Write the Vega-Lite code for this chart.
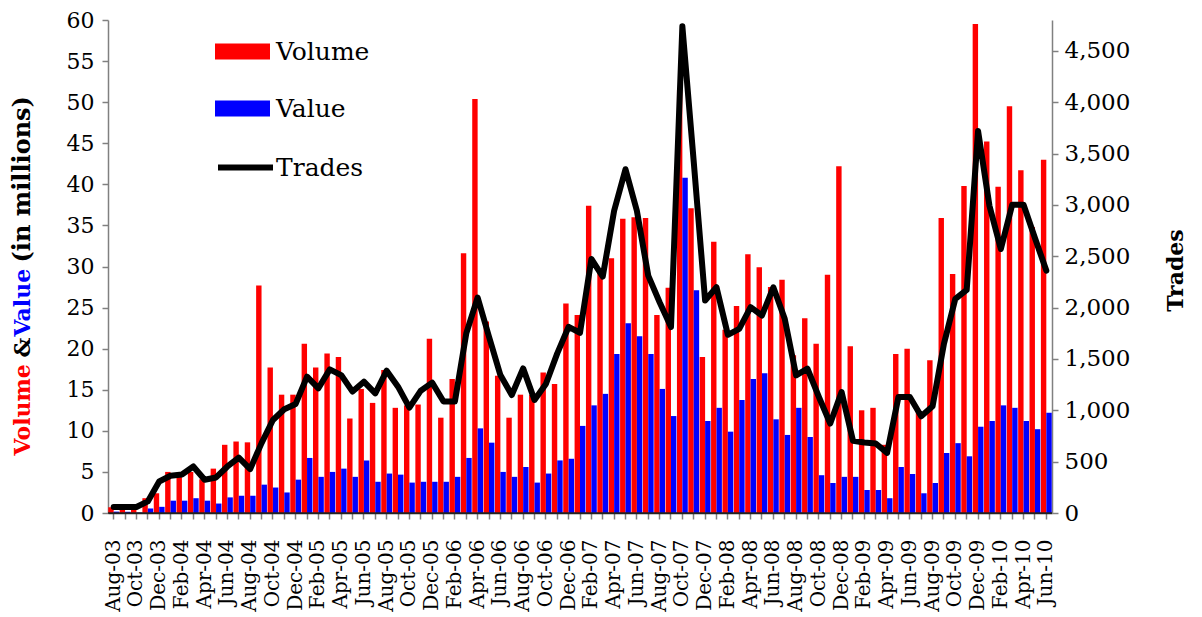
{
  "$schema": "https://vega.github.io/schema/vega-lite/v6.json",
  "width": 944,
  "height": 493,
  "autosize": {"type": "none"},
  "padding": {"left": 108, "top": 20, "right": 150, "bottom": 104},
  "background": "white",
  "datasets": {
    "monthly": [
    {"m":"Aug-03","Volume":0.7,"Value":0.17,"Trades":58},
    {"m":"Sep-03","Volume":0.7,"Value":0.15,"Trades":58},
    {"m":"Oct-03","Volume":0.7,"Value":0.05,"Trades":58},
    {"m":"Nov-03","Volume":1.8,"Value":0.55,"Trades":113},
    {"m":"Dec-03","Volume":2.4,"Value":0.75,"Trades":307},
    {"m":"Jan-04","Volume":5.0,"Value":1.5,"Trades":363},
    {"m":"Feb-04","Volume":4.7,"Value":1.5,"Trades":375},
    {"m":"Mar-04","Volume":5.0,"Value":1.8,"Trades":453},
    {"m":"Apr-04","Volume":4.1,"Value":1.5,"Trades":324},
    {"m":"May-04","Volume":5.4,"Value":1.15,"Trades":346},
    {"m":"Jun-04","Volume":8.3,"Value":1.9,"Trades":453},
    {"m":"Jul-04","Volume":8.7,"Value":2.1,"Trades":540},
    {"m":"Aug-04","Volume":8.6,"Value":2.1,"Trades":427},
    {"m":"Sep-04","Volume":27.7,"Value":3.45,"Trades":680},
    {"m":"Oct-04","Volume":17.7,"Value":3.1,"Trades":906},
    {"m":"Nov-04","Volume":14.4,"Value":2.5,"Trades":1010},
    {"m":"Dec-04","Volume":14.4,"Value":4.06,"Trades":1062},
    {"m":"Jan-05","Volume":20.6,"Value":6.7,"Trades":1327},
    {"m":"Feb-05","Volume":17.7,"Value":4.4,"Trades":1214},
    {"m":"Mar-05","Volume":19.4,"Value":5.0,"Trades":1398},
    {"m":"Apr-05","Volume":19.0,"Value":5.4,"Trades":1343},
    {"m":"May-05","Volume":11.5,"Value":4.4,"Trades":1182},
    {"m":"Jun-05","Volume":15.1,"Value":6.4,"Trades":1279},
    {"m":"Jul-05","Volume":13.4,"Value":3.8,"Trades":1165},
    {"m":"Aug-05","Volume":17.4,"Value":4.8,"Trades":1386},
    {"m":"Sep-05","Volume":12.8,"Value":4.67,"Trades":1230},
    {"m":"Oct-05","Volume":13.1,"Value":3.7,"Trades":1026},
    {"m":"Nov-05","Volume":13.2,"Value":3.8,"Trades":1191},
    {"m":"Dec-05","Volume":21.2,"Value":3.8,"Trades":1269},
    {"m":"Jan-06","Volume":11.6,"Value":3.8,"Trades":1085},
    {"m":"Feb-06","Volume":16.3,"Value":4.4,"Trades":1085},
    {"m":"Mar-06","Volume":31.6,"Value":6.7,"Trades":1748},
    {"m":"Apr-06","Volume":50.4,"Value":10.3,"Trades":2098},
    {"m":"May-06","Volume":23.3,"Value":8.56,"Trades":1716},
    {"m":"Jun-06","Volume":16.7,"Value":5.0,"Trades":1343},
    {"m":"Jul-06","Volume":11.6,"Value":4.4,"Trades":1149},
    {"m":"Aug-06","Volume":14.4,"Value":5.6,"Trades":1408},
    {"m":"Sep-06","Volume":14.4,"Value":3.7,"Trades":1101},
    {"m":"Oct-06","Volume":17.1,"Value":4.8,"Trades":1256},
    {"m":"Nov-06","Volume":15.7,"Value":6.4,"Trades":1554},
    {"m":"Dec-06","Volume":25.5,"Value":6.6,"Trades":1813},
    {"m":"Jan-07","Volume":24.1,"Value":10.6,"Trades":1755},
    {"m":"Feb-07","Volume":37.4,"Value":13.1,"Trades":2473},
    {"m":"Mar-07","Volume":29.5,"Value":14.5,"Trades":2302},
    {"m":"Apr-07","Volume":31.0,"Value":19.35,"Trades":2943},
    {"m":"May-07","Volume":35.8,"Value":23.1,"Trades":3347},
    {"m":"Jun-07","Volume":36.0,"Value":21.5,"Trades":2943},
    {"m":"Jul-07","Volume":35.9,"Value":19.35,"Trades":2311},
    {"m":"Aug-07","Volume":24.1,"Value":15.1,"Trades":2052},
    {"m":"Sep-07","Volume":27.4,"Value":11.8,"Trades":1810},
    {"m":"Oct-07","Volume":51.5,"Value":40.8,"Trades":4739},
    {"m":"Nov-07","Volume":37.1,"Value":27.1,"Trades":3420},
    {"m":"Dec-07","Volume":19.0,"Value":11.2,"Trades":2069},
    {"m":"Jan-08","Volume":33.0,"Value":12.8,"Trades":2198},
    {"m":"Feb-08","Volume":22.3,"Value":9.9,"Trades":1735},
    {"m":"Mar-08","Volume":25.2,"Value":13.75,"Trades":1793},
    {"m":"Apr-08","Volume":31.5,"Value":16.3,"Trades":2004},
    {"m":"May-08","Volume":29.9,"Value":17.0,"Trades":1923},
    {"m":"Jun-08","Volume":27.5,"Value":11.4,"Trades":2198},
    {"m":"Jul-08","Volume":28.4,"Value":9.5,"Trades":1891},
    {"m":"Aug-08","Volume":19.2,"Value":12.8,"Trades":1340},
    {"m":"Sep-08","Volume":23.7,"Value":9.25,"Trades":1405},
    {"m":"Oct-08","Volume":20.6,"Value":4.6,"Trades":1130},
    {"m":"Nov-08","Volume":29.0,"Value":3.65,"Trades":871},
    {"m":"Dec-08","Volume":42.2,"Value":4.4,"Trades":1178},
    {"m":"Jan-09","Volume":20.3,"Value":4.4,"Trades":703},
    {"m":"Feb-09","Volume":12.5,"Value":2.8,"Trades":686},
    {"m":"Mar-09","Volume":12.8,"Value":2.8,"Trades":677},
    {"m":"Apr-09","Volume":8.3,"Value":1.8,"Trades":586},
    {"m":"May-09","Volume":19.35,"Value":5.6,"Trades":1130},
    {"m":"Jun-09","Volume":20.0,"Value":4.75,"Trades":1130},
    {"m":"Jul-09","Volume":12.4,"Value":2.4,"Trades":942},
    {"m":"Aug-09","Volume":18.6,"Value":3.65,"Trades":1039},
    {"m":"Sep-09","Volume":35.9,"Value":7.3,"Trades":1648},
    {"m":"Oct-09","Volume":29.1,"Value":8.5,"Trades":2085},
    {"m":"Nov-09","Volume":39.8,"Value":6.9,"Trades":2172},
    {"m":"Dec-09","Volume":59.5,"Value":10.5,"Trades":3720},
    {"m":"Jan-10","Volume":45.2,"Value":11.2,"Trades":2991},
    {"m":"Feb-10","Volume":39.7,"Value":13.1,"Trades":2570},
    {"m":"Mar-10","Volume":49.5,"Value":12.8,"Trades":3001},
    {"m":"Apr-10","Volume":41.7,"Value":11.2,"Trades":3001},
    {"m":"May-10","Volume":34.8,"Value":10.2,"Trades":2677},
    {"m":"Jun-10","Volume":43.0,"Value":12.2,"Trades":2360}
    ],
    "baseline": [{"zero": 0}]
  },
  "data": {"name": "monthly"},
  "config": {
    "view": {"stroke": null},
    "font": "DejaVu Serif",
    "axis": {
      "grid": false,
      "labelFont": "DejaVu Serif",
      "titleFont": "DejaVu Serif",
      "labelColor": "black",
      "titleColor": "black",
      "labelFontSize": 22,
      "titleFontSize": 22,
      "titleFontWeight": "bold",
      "domainColor": "#808080",
      "tickColor": "#808080",
      "domainWidth": 1.5,
      "tickWidth": 1.5,
      "tickSize": 6
    },
    "axisX": {
      "labelAngle": -90,
      "labelFontSize": 20,
      "labelOverlap": false,
      "labelPadding": 20,
      "domainColor": "#222222",
      "labelExpr": "indexof('Jan,Mar,May,Jul,Sep,Nov', slice(datum.value, 0, 3)) >= 0 ? '' : datum.value"
    },
    "legend": {
      "labelFont": "DejaVu Serif",
      "labelFontSize": 25,
      "labelColor": "black"
    }
  },
  "resolve": {"scale": {"y": "independent"}, "axis": {"y": "independent"}},
  "layer": [
    {
      "transform": [
        {"fold": ["Volume", "Value"], "as": ["series", "amount"]},
        {"filter": "datum.series == 'Volume'"}
      ],
      "mark": {"type": "bar"},
      "encoding": {
        "x": {"field": "m", "type": "ordinal", "sort": null, "title": null, "scale": {"paddingInner": 0, "paddingOuter": 0}},
        "xOffset": {"field": "series", "type": "nominal", "scale": {"domain": ["Volume", "Value"], "paddingInner": 0, "paddingOuter": 0.05}},
        "y": {"field": "amount", "type": "quantitative", "scale": {"domain": [0, 60], "nice": false},
              "axis": {"orient": "left", "values": [0,5,10,15,20,25,30,35,40,45,50,55,60], "labelPadding": 8,
                       "title": "Volume", "titleColor": "#FF0000", "titleAngle": 270, "titleAlign": "left", "titleBaseline": "middle", "titleX": -86, "titleY": 435}},
        "color": {"field": "series", "type": "nominal", "scale": {"domain": ["Volume", "Value"], "range": ["#FF0000", "#0000FF"]},
                  "legend": {"orient": "none", "title": null, "legendX": 107, "legendY": 4, "padding": 0,
                             "symbolType": "M-1,-0.29H1V0.29H-1Z", "symbolSize": 3025, "symbolStrokeWidth": 0,
                             "rowPadding": 16, "labelOffset": 6}}
      }
    },
    {
      "transform": [
        {"fold": ["Volume", "Value"], "as": ["series", "amount"]},
        {"filter": "datum.series == 'Value'"}
      ],
      "mark": {"type": "bar"},
      "encoding": {
        "x": {"field": "m", "type": "ordinal", "sort": null, "title": null, "scale": {"paddingInner": 0, "paddingOuter": 0}},
        "xOffset": {"field": "series", "type": "nominal"},
        "y": {"field": "amount", "type": "quantitative", "scale": {"domain": [0, 60], "nice": false},
              "axis": {"orient": "left", "labels": false, "ticks": false, "domain": false,
                       "title": "Value", "titleColor": "#0000FF", "titleAngle": 270, "titleAlign": "left", "titleBaseline": "middle", "titleX": -86, "titleY": 316}},
        "color": {"field": "series", "type": "nominal"}
      }
    },
    {
      "data": {"name": "baseline"},
      "mark": {"type": "rule", "color": "#222222", "strokeWidth": 1},
      "encoding": {
        "y": {"field": "zero", "type": "quantitative", "scale": {"domain": [0, 60], "nice": false},
              "axis": {"orient": "left", "labels": false, "ticks": false, "domain": false,
                       "title": "&", "titleAngle": 270, "titleAlign": "left", "titleBaseline": "middle", "titleX": -86, "titleY": 337}}
      }
    },
    {
      "data": {"name": "baseline"},
      "mark": {"type": "rule", "color": "#222222", "strokeWidth": 1},
      "encoding": {
        "y": {"field": "zero", "type": "quantitative", "scale": {"domain": [0, 60], "nice": false},
              "axis": {"orient": "left", "labels": false, "ticks": false, "domain": false,
                       "title": "(in millions)", "titleFontSize": 24, "titleAngle": 270, "titleAlign": "left", "titleBaseline": "middle", "titleX": -86, "titleY": 242}}
      }
    },
    {
      "mark": {"type": "line", "strokeWidth": 6, "strokeJoin": "round", "strokeCap": "round"},
      "encoding": {
        "x": {"field": "m", "type": "ordinal", "sort": null, "title": null, "scale": {"paddingInner": 0, "paddingOuter": 0}},
        "y": {"field": "Trades", "type": "quantitative", "scale": {"domain": [0, 4800], "nice": false},
              "axis": {"orient": "right", "values": [0,500,1000,1500,2000,2500,3000,3500,4000,4500], "format": ",d", "labelPadding": 6, "labelFontSize": 23,
                       "title": "Trades", "titleAngle": 270, "titleAlign": "center", "titleBaseline": "middle", "titleX": 123, "titleY": 250}},
        "stroke": {"datum": "Trades", "scale": {"domain": ["Trades"], "range": ["#000000"]},
                   "legend": {"orient": "none", "title": null, "legendX": 107, "legendY": 117, "padding": 0,
                              "symbolSize": 3025, "symbolStrokeWidth": 6, "labelOffset": 0}}
      }
    }
  ]
}
